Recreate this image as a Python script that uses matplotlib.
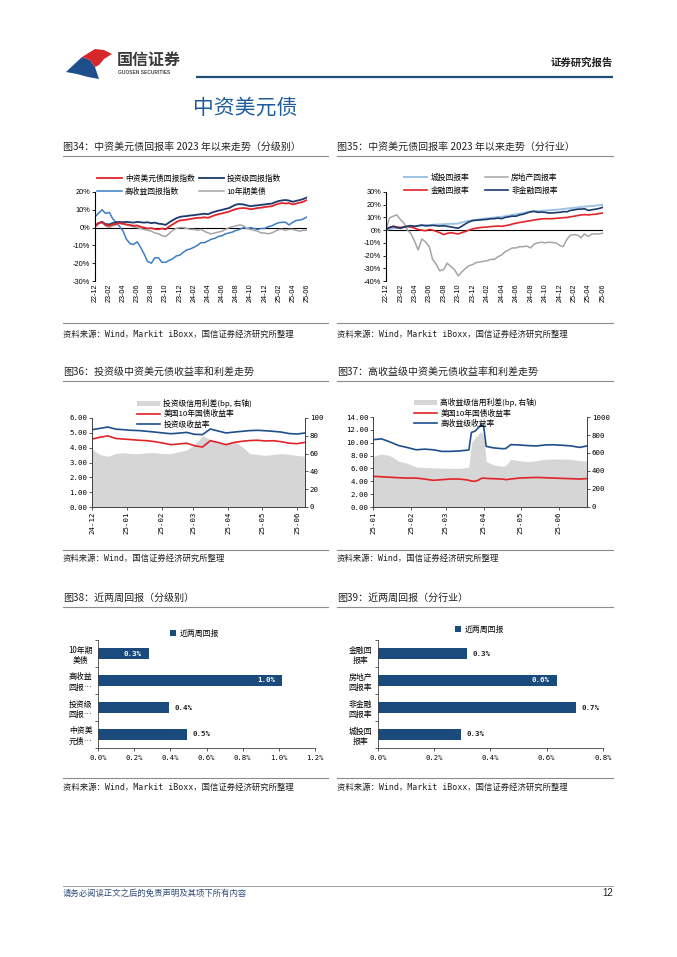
import numpy as np
import pandas as pd
import matplotlib
matplotlib.use('Agg')
import matplotlib.pyplot as plt
from matplotlib.patches import Polygon, Patch

plt.rcParams['font.family'] = ['Noto Sans CJK SC', 'DejaVu Sans']
plt.rcParams['axes.unicode_minus'] = False

# ---------------- data ----------------
# Fig34 (semi-monthly, 2022-12 .. 2025-06), %
c34_zzmy = [0.5, 2.5, 3.0, 1.5, 1.0, 1.8, 2.0, 2.5, 2.2, 1.8, 1.5, 1.0, 1.2, 0.5, 0.0, -0.5, -0.3, -0.8, -1.0, -0.5,
            -1.0, 0.5, 1.8, 3.0, 4.0, 4.2, 4.5, 4.8, 5.2, 5.5, 5.5, 5.8, 5.5, 6.2, 7.0, 7.5, 8.0, 8.5, 9.0, 9.8,
            10.5, 10.8, 11.0, 10.8, 10.3, 10.6, 11.0, 11.2, 11.5, 11.8, 12.0, 12.8, 13.5, 13.8, 13.5, 13.8, 13.0, 13.5, 14.0, 14.5,
            15.5]
c34_ig = [0.8, 2.5, 3.2, 2.0, 1.8, 2.5, 3.0, 3.2, 3.0, 3.2, 3.0, 2.8, 3.2, 3.0, 2.8, 3.0, 2.5, 2.8, 2.2, 2.0,
          1.5, 2.8, 4.2, 5.2, 6.0, 6.3, 6.5, 6.8, 7.0, 7.3, 7.5, 7.8, 7.5, 8.3, 9.0, 9.5, 10.0, 10.5, 11.0, 12.0,
          13.0, 13.2, 13.0, 12.5, 12.0, 12.3, 12.5, 12.8, 13.0, 13.3, 13.5, 14.3, 15.0, 15.3, 15.5, 15.2, 14.5, 15.0, 15.5, 16.0,
          17.0]
c34_hy = [6.0, 8.0, 10.0, 8.0, 8.5, 5.0, 3.0, 1.0, -2.0, -6.5, -9.0, -9.5, -8.0, -11.0, -15.0, -19.0, -20.0, -17.0, -17.0, -19.5,
          -19.5, -18.5, -17.5, -16.0, -15.5, -14.0, -12.5, -12.0, -11.0, -10.0, -8.5, -8.5, -7.5, -6.5, -6.0, -5.0, -4.5, -3.5, -3.0, -2.5,
          -1.5, -1.0, 0.0, -0.5, 0.0, -0.5, -1.0, -0.5, -0.5, 0.5, 1.0, 2.0, 2.8, 3.0, 3.0, 1.5, 3.0, 4.0, 4.2, 4.8,
          6.0]
c34_ust = [0.5, 2.0, 3.0, 1.0, 0.0, 1.0, 1.5, 2.5, 2.0, 1.5, 1.0, 0.5, 0.0, -0.5, -1.0, -1.5, -2.0, -3.0, -3.5, -4.5,
           -5.0, -3.5, -1.5, -0.5, 0.0, 0.0, -0.5, -1.0, -1.0, -1.5, -1.0, -2.0, -3.0, -3.5, -3.0, -2.5, -2.0, -1.0, 0.0, 0.5,
           1.0, 1.5, 1.0, -0.5, -1.0, -1.5, -2.0, -3.0, -3.0, -3.5, -3.0, -2.0, -1.0, -1.0, -1.5, -1.0, -1.0, -1.5, -2.0, -1.5,
           -1.5]
c34_names = ['中资美元债回报指数', '投资级回报指数', '高收益回报指数', '10年期美债']

# Fig35 (semi-monthly), %
c35_ct = [0.0, 0.8, 1.5, 1.8, 2.0, 2.3, 2.5, 2.8, 3.0, 3.2, 3.5, 3.7, 4.0, 4.2, 4.4, 4.5, 4.6, 4.8, 5.0, 5.0,
          5.2, 6.0, 6.8, 7.3, 7.8, 8.2, 8.6, 9.0, 9.3, 9.6, 9.9, 10.2, 10.5, 11.0, 11.5, 12.0, 12.5, 13.0, 13.5, 14.0,
          14.5, 14.8, 15.0, 15.2, 15.4, 15.6, 15.8, 16.0, 16.3, 16.6, 17.0, 17.3, 17.6, 17.9, 18.2, 18.5, 18.8, 19.0, 19.3, 19.6,
          20.0]
c35_re = [0.0, 9.5, 11.0, 12.0, 8.0, 5.5, 0.0, -2.5, -9.0, -15.5, -7.0, -9.0, -13.0, -23.0, -27.0, -32.0, -31.0, -26.0, -28.7, -31.0,
          -36.0, -33.0, -30.0, -28.0, -27.0, -25.5, -25.0, -24.5, -24.0, -23.0, -23.0, -21.0, -19.5, -17.0, -15.5, -14.0, -14.0, -13.0, -13.0, -12.5,
          -14.0, -11.0, -10.0, -9.5, -10.0, -9.5, -9.7, -10.0, -12.0, -13.0, -7.0, -4.0, -3.5, -4.0, -6.0, -3.0, -5.0, -3.0, -3.0, -3.0,
          -2.4]
c35_fin = [0.5, 2.0, 3.0, 2.5, 2.0, 2.5, 3.0, 2.5, 1.5, 0.5, 0.0, -0.5, 0.5, 0.0, -1.0, -2.0, -3.5, -2.5, -2.0, -2.5,
           -3.0, -2.0, -1.0, 0.0, 1.0, 1.5, 2.0, 2.3, 2.5, 2.8, 3.0, 3.2, 3.0, 3.5, 4.0, 4.8, 5.5, 6.0, 6.5, 7.0,
           7.5, 8.0, 8.5, 8.8, 9.0, 9.0, 9.0, 9.3, 9.5, 9.8, 10.0, 10.5, 11.0, 11.5, 12.0, 12.2, 12.0, 12.3, 12.5, 13.0,
           13.5]
c35_nonfin = [0.5, 2.0, 3.0, 2.0, 1.5, 2.5, 3.0, 3.5, 3.0, 3.5, 4.0, 3.5, 3.5, 3.8, 3.5, 3.2, 3.5, 3.0, 2.5, 2.0,
              1.5, 3.0, 5.0, 6.5, 7.5, 7.8, 8.0, 8.3, 8.5, 9.0, 9.0, 9.5, 9.0, 10.0, 10.5, 11.0, 11.0, 12.0, 12.5, 13.5,
              14.5, 14.8, 14.0, 14.2, 14.0, 13.5, 13.5, 13.8, 14.0, 14.5, 14.5, 15.5, 16.0, 16.5, 16.5, 16.8, 15.5, 16.0, 16.5, 17.0,
              18.0]
c35_names = ['城投回报率', '房地产回报率', '金融回报率', '非金融回报率']
c3435_xlabels = ['22-12', '23-02', '23-04', '23-06', '23-08', '23-10', '23-12', '24-02',
                 '24-04', '24-06', '24-08', '24-10', '24-12', '25-02', '25-04', '25-06']

# Fig36 (weekly from 2024-12-01)
c36_ust = [4.58, 4.70, 4.80, 4.62, 4.58, 4.54, 4.50, 4.47, 4.40, 4.31, 4.20, 4.25, 4.30, 4.13, 4.04, 4.47, 4.35, 4.20,
           4.35, 4.43, 4.48, 4.50, 4.45, 4.47, 4.40, 4.30, 4.27, 4.36]
c36_ig = [5.21, 5.30, 5.39, 5.25, 5.21, 5.17, 5.15, 5.10, 5.05, 4.99, 4.94, 4.98, 5.03, 4.90, 4.88, 5.26, 5.12, 4.99,
          5.05, 5.10, 5.15, 5.17, 5.14, 5.10, 5.05, 4.95, 4.92, 4.99]
c36_spread = [65, 59, 57, 60, 61, 60, 60, 61, 61, 60, 60, 62, 64, 70, 80, 76, 73, 72, 74, 68, 60, 59, 58, 59, 60, 59, 58, 57]
c36_names = ['投资级信用利差(bp, 右轴)', '美国10年国债收益率', '投资级收益率']
c36_xlabels = ['24-12', '25-01', '25-02', '25-03', '25-04', '25-05', '25-06']

# Fig37 (days since 2025-01-01)
c37_days = [0, 7, 14, 21, 28, 35, 42, 49, 56, 63, 70, 77, 78, 80, 83, 86, 88, 90, 92, 98, 105, 108, 112, 119,
            126, 133, 140, 147, 154, 161, 168, 174]
c37_hy = [10.47, 10.6, 10.1, 9.55, 9.25, 8.9, 9.0, 8.9, 8.65, 8.65, 8.72, 8.85, 8.9, 11.6, 11.8, 12.4, 12.8, 12.5, 9.43, 9.2,
          9.07, 9.1, 9.7, 9.65, 9.55, 9.5, 9.65, 9.68, 9.6, 9.5, 9.27, 9.5]
c37_spread = [563, 589, 570, 510, 485, 445, 438, 435, 433, 430, 428, 440, 450, 711, 770, 810, 841, 780, 507, 468,
              452, 460, 530, 515, 505, 515, 530, 533, 533, 530, 515, 512]
c37_ust = [4.77, 4.7, 4.62, 4.55, 4.5, 4.5, 4.35, 4.15, 4.25, 4.35, 4.35, 4.2, 4.15, 4.05, 4.0, 4.2, 4.45, 4.5, 4.45, 4.4,
           4.35, 4.25, 4.35, 4.5, 4.55, 4.6, 4.55, 4.5, 4.45, 4.4, 4.35, 4.42]
c37_names = ['高收益级信用利差(bp, 右轴)', '美国10年国债收益率', '高收益级收益率']
c37_xlabels = ['25-01', '25-02', '25-03', '25-04', '25-05', '25-06']

# Fig38 / Fig39 (%)
c38_cats = ['10年期\n美债', '高收益\n回报…', '投资级\n回报…', '中资美\n元债…']
c38_vals = [0.28, 1.02, 0.39, 0.49]
c39_cats = ['金融回\n报率', '房地产\n回报率', '非金融\n回报率', '城投回\n报率']
c39_vals = [0.316, 0.636, 0.704, 0.295]
bar_series = '近两周回报'

# ---------------- styles ----------------
RED = '#E2232A'
NAVY = '#1A3A6B'
BLUE_M = '#3C7DC4'
GRAY = '#A5A5A5'
LBLUE = '#9DC3E6'
C36_BLUE = '#1F4E8C'
BAR = '#1B4B7C'
FILL = '#D6D6D6'
HDR = '#1F4E79'
MONO = ['DejaVu Sans Mono', 'Noto Sans CJK SC']
SANS = ['Liberation Sans', 'DejaVu Sans']

W, H = 677, 957
fig = plt.figure(figsize=(W / 100, H / 100), dpi=100)
bg = fig.add_axes([0, 0, 1, 1])
bg.set_xlim(0, W)
bg.set_ylim(H, 0)
bg.axis('off')


def px_axes(l, t, r, b):
    return fig.add_axes([l / W, 1 - b / H, (r - l) / W, (b - t) / H])


def fanchor(x, y):
    return (x / W, 1 - y / H)


# ---------------- page furniture ----------------
bg.add_patch(Polygon([(66, 72), (82, 57), (90, 60), (95, 67), (99, 79), (88, 77), (77, 74)], closed=True,
                     facecolor='#1F4E8C', edgecolor='none'))
bg.add_patch(Polygon([(82, 57), (95, 49), (104, 50), (112, 54), (104, 59), (99, 65), (95, 67), (90, 60)], closed=True,
                     facecolor='#D7262C', edgecolor='none'))
bg.text(117, 60, '国信证券', fontsize=11.5, fontweight='bold', color='#3A3A3A', va='center', ha='left')
bg.text(118, 72.5, 'GUOSEN SECURITIES', fontsize=3.5, fontweight='bold', color='#4A4A4A', va='center', ha='left',
        family=SANS)
bg.text(613, 63, '证券研究报告', fontsize=7.5, fontweight='bold', color='#222222', va='center', ha='right')
bg.plot([196, 613], [77, 77], color=HDR, lw=1.6, solid_capstyle='butt')
bg.text(193, 108, '中资美元债', fontsize=15, color='#1F5C9E', va='center', ha='left', fontweight='medium')

# section titles / separators / sources
src_full = '资料来源：Wind，Markit iBoxx，国信证券经济研究所整理'
src_short = '资料来源：Wind，国信证券经济研究所整理'
blocks = [
    (63, 328, 147, '图34：中资美元债回报率 2023 年以来走势（分级别）', 323, 334, src_full),
    (337, 613, 147, '图35：中资美元债回报率 2023 年以来走势（分行业）', 323, 334, src_full),
    (63, 328, 372, '图36：投资级中资美元债收益率和利差走势', 550, 558, src_short),
    (337, 613, 372, '图37：高收益级中资美元债收益率和利差走势', 550, 558, src_short),
    (63, 328, 598, '图38：近两周回报（分级别）', 778, 787, src_full),
    (337, 613, 598, '图39：近两周回报（分行业）', 778, 787, src_full),
]
for x0, x1, ty, title, sy, srcy, src in blocks:
    bg.text(x0, ty, title, fontsize=7.2, color='#222222', va='center', ha='left')
    bg.plot([x0, x1], [ty + 9, ty + 9], color='#8C8C8C', lw=0.8)
    bg.plot([x0, x1], [sy, sy], color='#8C8C8C', lw=0.8)
    bg.text(x0, srcy, src, fontsize=6, color='#222222', va='center', ha='left', family=MONO)

bg.plot([63, 613], [886, 886], color='#8C8C8C', lw=0.6)
bg.text(63, 893, '请务必阅读正文之后的免责声明及其项下所有内容', fontsize=6, color='#2F4A78', va='center', ha='left')
bg.text(613, 893, '12', fontsize=7, color='#222222', va='center', ha='right', family=SANS)


# ---------------- helpers ----------------
def style_return_axes(ax, ylo, yhi, step):
    ax.set_ylim(ylo, yhi)
    ax.set_yticks(np.arange(ylo, yhi + 1, step))
    ax.set_yticklabels([f'{int(v)}%' for v in np.arange(ylo, yhi + 1, step)], family=SANS)
    ax.axhline(0, color='black', lw=0.8, zorder=1)
    for s in ['top', 'right', 'bottom']:
        ax.spines[s].set_visible(False)
    ax.spines['left'].set_linewidth(0.8)
    ax.tick_params(axis='x', length=0, pad=2, labelsize=5.2)
    ax.tick_params(axis='y', length=2, width=0.6, pad=1.5, labelsize=5.3)
    ax.patch.set_alpha(0)


# ---------------- Fig34 ----------------
d3435 = pd.date_range('2022-12-01', periods=len(c34_zzmy), freq='SMS')
tick3435 = pd.date_range('2022-12-01', periods=len(c3435_xlabels), freq='2MS')
ax34 = px_axes(95, 192, 307, 281)
l_hy, = ax34.plot(d3435, c34_hy, color=BLUE_M, lw=1.1)
l_ust, = ax34.plot(d3435, c34_ust, color=GRAY, lw=1.1)
l_ig, = ax34.plot(d3435, c34_ig, color=NAVY, lw=1.3)
l_zz, = ax34.plot(d3435, c34_zzmy, color=RED, lw=1.3)
ax34.set_xlim(d3435[0], d3435[-1])
style_return_axes(ax34, -30, 20, 10)
ax34.set_xticks(tick3435)
ax34.set_xticklabels(c3435_xlabels, rotation=90, family=SANS)
fig.legend([l_zz, l_hy, l_ig, l_ust], [c34_names[0], c34_names[2], c34_names[1], c34_names[3]],
           ncol=2, loc='upper left', bbox_to_anchor=fanchor(97, 175), frameon=False, fontsize=5.6,
           handlelength=3.2, handletextpad=0.4, columnspacing=0.5, labelspacing=0.6,
           borderpad=0, borderaxespad=0)

# ---------------- Fig35 ----------------
ax35 = px_axes(386, 192, 603, 281)
l_re, = ax35.plot(d3435, c35_re, color=GRAY, lw=1.1)
l_ct, = ax35.plot(d3435, c35_ct, color=LBLUE, lw=1.4)
l_fin, = ax35.plot(d3435, c35_fin, color=RED, lw=1.2)
l_nf, = ax35.plot(d3435, c35_nonfin, color=NAVY, lw=1.2)
ax35.set_xlim(d3435[0], d3435[-1])
style_return_axes(ax35, -40, 30, 10)
ax35.set_xticks(tick3435)
ax35.set_xticklabels(c3435_xlabels, rotation=90, family=SANS)
fig.legend([l_ct, l_fin, l_re, l_nf], [c35_names[0], c35_names[2], c35_names[1], c35_names[3]],
           ncol=2, loc='upper left', bbox_to_anchor=fanchor(404, 174), frameon=False, fontsize=5.6,
           handlelength=3.0, handletextpad=0.4, columnspacing=2.0, labelspacing=0.6,
           borderpad=0, borderaxespad=0)


# ---------------- Fig36 / Fig37 ----------------
def yield_chart(box, dates, ust, yld, spread, ymax, ystep, rmax, rstep, xticks, xlabels, names, leg_anchor, xlim):
    ax = px_axes(*box)
    ax2 = ax.twinx()
    fill = ax2.fill_between(dates, spread, 0, color=FILL, lw=0)
    ax2.set_ylim(0, rmax)
    ax2.set_yticks(np.arange(0, rmax + 1, rstep))
    ax2.set_yticklabels([f'{int(v)}' for v in np.arange(0, rmax + 1, rstep)], family=MONO)
    ax.set_zorder(ax2.get_zorder() + 1)
    ax.patch.set_visible(False)
    lu, = ax.plot(dates, ust, color=RED, lw=1.2)
    ly, = ax.plot(dates, yld, color=C36_BLUE, lw=1.2)
    ax.set_ylim(0, ymax)
    ax.set_yticks(np.arange(0, ymax + 0.01, ystep))
    ax.set_yticklabels([f'{v:.2f}' for v in np.arange(0, ymax + 0.01, ystep)], family=MONO)
    ax.set_xlim(*xlim)
    ax.set_xticks(xticks)
    ax.set_xticklabels(xlabels, rotation=90, family=MONO)
    for a in (ax, ax2):
        a.spines['top'].set_visible(False)
        for s in ['left', 'right', 'bottom']:
            a.spines[s].set_linewidth(0.6)
            a.spines[s].set_color('#404040')
    ax.tick_params(axis='both', length=2, width=0.6, pad=1.5, labelsize=5.3, color='#404040')
    ax2.tick_params(axis='y', length=2, width=0.6, pad=1.5, labelsize=5.3, color='#404040')
    fig.legend([fill, lu, ly], names, loc='upper left', bbox_to_anchor=leg_anchor, frameon=False,
               fontsize=5.6, handlelength=3.0, handletextpad=0.4, labelspacing=0.3,
               borderpad=0, borderaxespad=0)
    return ax


d36 = pd.date_range('2024-12-01', periods=len(c36_ust), freq='7D')
t36 = pd.date_range('2024-12-01', periods=len(c36_xlabels), freq='MS')
yield_chart((92, 418, 305, 507), d36, c36_ust, c36_ig, c36_spread, 6, 1, 100, 20, t36, c36_xlabels, c36_names,
            fanchor(137, 399), (d36[0], d36[-1]))

d37 = pd.Timestamp('2025-01-01') + pd.to_timedelta(c37_days, unit='D')
t37 = pd.date_range('2025-01-01', periods=len(c37_xlabels), freq='MS')
yield_chart((373, 417, 587, 507), d37, c37_ust, c37_hy, c37_spread, 14, 2, 1000, 200, t37, c37_xlabels, c37_names,
            fanchor(414, 398), (d37[0], d37[-1]))


# ---------------- Fig38 / Fig39 ----------------
def bar_chart(box, cats, vals, xmax, inside, leg_anchor):
    ax = px_axes(*box)
    ypos = np.arange(len(cats))
    bars = ax.barh(ypos, vals, height=0.42, color=BAR, label=bar_series)
    ax.set_ylim(len(cats) - 0.5, -0.5)
    ax.set_xlim(0, xmax)
    ax.set_yticks(ypos)
    ax.set_yticklabels(cats, fontsize=5.7, linespacing=1.25)
    for lbl in ax.get_yticklabels():
        lbl.set_multialignment('center')
    ax.set_yticks(np.arange(-0.5, len(cats)), minor=True)
    ax.tick_params(axis='y', which='major', length=0, pad=4)
    ax.tick_params(axis='y', which='minor', length=2.5, width=0.6, color='#404040')
    ticks = np.arange(0, xmax + 1e-9, 0.2)
    ax.set_xticks(ticks)
    ax.set_xticklabels([f'{t:.1f}%' for t in ticks], family=MONO)
    ax.tick_params(axis='x', length=2, width=0.6, pad=3, labelsize=5.2, color='#404040')
    for s in ['top', 'right']:
        ax.spines[s].set_visible(False)
    for s in ['left', 'bottom']:
        ax.spines[s].set_linewidth(0.6)
        ax.spines[s].set_color('#404040')
    for y, v, ins in zip(ypos, vals, inside):
        if ins:
            ax.annotate(f'{v:.1f}%', (v, y), xytext=(-5, 0), textcoords='offset points', ha='right', va='center',
                        fontsize=5.3, color='white', family=MONO, fontweight='bold')
        else:
            ax.annotate(f'{v:.1f}%', (v, y), xytext=(4, 0), textcoords='offset points', ha='left', va='center',
                        fontsize=5.3, color='#222222', family=MONO, fontweight='bold')
    fig.legend([bars], [bar_series], loc='center left', bbox_to_anchor=leg_anchor, frameon=False, fontsize=5.7,
               handlelength=0.7, handleheight=0.7, handletextpad=0.5, borderpad=0, borderaxespad=0)


bar_chart((98, 640, 315, 748), c38_cats, c38_vals, 1.2, [True, True, False, False], fanchor(170, 633))
bar_chart((378, 640, 603, 748), c39_cats, c39_vals, 0.8, [False, True, False, False], fanchor(455, 629))

fig.savefig('out.png', dpi=100)
